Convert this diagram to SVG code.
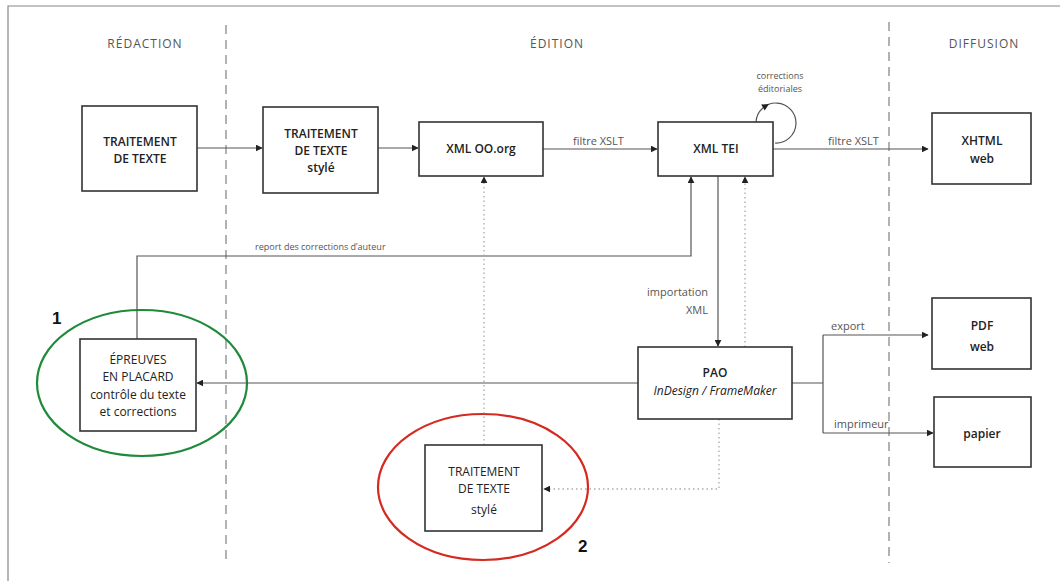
<svg xmlns="http://www.w3.org/2000/svg" width="1060" height="581" viewBox="0 0 1060 581">
<defs>
<style>
.box{fill:#fff;stroke:#333;stroke-width:1.6}
.t{font-family:"Open Sans","Liberation Sans",sans-serif;font-size:12px;fill:#222;text-anchor:middle}
.b{font-weight:600}
.hd{font-family:"Open Sans","Liberation Sans",sans-serif;font-size:12px;fill:#555;text-anchor:middle;letter-spacing:1px}
.lbl{font-family:"Open Sans","Liberation Sans",sans-serif;font-size:11px;fill:#555}
.sm{font-family:"Open Sans","Liberation Sans",sans-serif;font-size:9px;fill:#555}
.c{fill:none;stroke:#555;stroke-width:1.2}
.d{fill:none;stroke:#aaa;stroke-width:1.3;stroke-dasharray:1.5,3}
.sep{stroke:#999;stroke-width:1.5;stroke-dasharray:9,6}
</style>
<marker id="ah" viewBox="0 0 10 10" refX="9" refY="5" markerWidth="7" markerHeight="7" orient="auto" markerUnits="userSpaceOnUse">
<path d="M0,0 L10,5 L0,10 z" fill="#222"/>
</marker>
</defs>
<rect width="1060" height="581" fill="#fff"/>
<g id="frame" stroke="#888" stroke-width="1.2" fill="none">
<path d="M8,581 V6 H1060"/>
</g>
<g id="separators">
<line class="sep" x1="226" y1="25" x2="226" y2="563"/>
<line class="sep" x1="889" y1="22" x2="889" y2="563"/>
</g>
<g id="headers">
<text class="hd" x="145" y="48">RÉDACTION</text>
<text class="hd" x="557" y="48">ÉDITION</text>
<text class="hd" x="984" y="48">DIFFUSION</text>
</g>
<g id="highlights" fill="none" stroke-width="2.2">
<ellipse cx="142" cy="383" rx="105" ry="73" stroke="#1e8a3a"/>
<ellipse cx="483" cy="487" rx="105" ry="73" stroke="#d42a20"/>
<text x="52" y="324" font-family="Liberation Sans,Arial,sans-serif" font-size="17" font-weight="bold" fill="#111" stroke="none">1</text>
<text x="578" y="552" font-family="Liberation Sans,Arial,sans-serif" font-size="17" font-weight="bold" fill="#111" stroke="none">2</text>
</g>
<g id="connectors">
<line class="c" x1="197" y1="148" x2="262" y2="148" marker-end="url(#ah)"/>
<line class="c" x1="378" y1="148" x2="418" y2="148" marker-end="url(#ah)"/>
<line class="c" x1="543" y1="149" x2="657" y2="149" marker-end="url(#ah)"/>
<line class="c" x1="773" y1="149" x2="928" y2="149" marker-end="url(#ah)"/>
<path class="c" d="M756,122 A20,20 0 1 1 775,143"/>
<polygon points="769,104 764.7,110.5 761.2,104.5" fill="#222"/>
<path class="c" d="M137,339 V256 H691 V177" marker-end="url(#ah)"/>
<line class="c" x1="718" y1="176" x2="718" y2="346" marker-end="url(#ah)"/>
<path class="d" d="M745,347 V177" marker-end="url(#ah)"/>
<path class="d" d="M484,445 V177" marker-end="url(#ah)"/>
<line class="c" x1="638" y1="383" x2="197" y2="383" marker-end="url(#ah)"/>
<path class="d" d="M719,419 V489 H544" marker-end="url(#ah)"/>
<path class="c" d="M792,383 H823 M823,335 V433"/>
<line class="c" x1="823" y1="335" x2="928" y2="335" marker-end="url(#ah)"/>
<line class="c" x1="823" y1="433" x2="933" y2="433" marker-end="url(#ah)"/>
</g>
<g id="connector-labels">
<text class="lbl" x="573" y="145">filtre XSLT</text>
<text class="lbl" x="828" y="145">filtre XSLT</text>
<text class="sm" x="780" y="79" text-anchor="middle">corrections</text>
<text class="sm" x="780" y="92" text-anchor="middle">éditoriales</text>
<text class="sm" x="255" y="250" font-size="9.5">report des corrections d’auteur</text>
<text class="lbl" x="708" y="296" text-anchor="end">importation</text>
<text class="lbl" x="708" y="314" text-anchor="end">XML</text>
<text class="lbl" x="831" y="330">export</text>
<text class="lbl" x="834" y="428">imprimeur</text>
</g>
<g id="n-tt1">
<rect class="box" x="82" y="106" width="115" height="85"/>
<text class="t b" x="140" y="146">TRAITEMENT</text>
<text class="t b" x="140" y="163">DE TEXTE</text>
</g>
<g id="n-tt2">
<rect class="box" x="263" y="107" width="115" height="86"/>
<text class="t b" x="321" y="138">TRAITEMENT</text>
<text class="t b" x="321" y="155">DE TEXTE</text>
<text class="t b" x="321" y="172">stylé</text>
</g>
<g id="n-xmloo">
<rect class="box" x="419" y="122" width="124" height="54"/>
<text class="t b" x="481" y="153">XML OO.org</text>
</g>
<g id="n-xmltei">
<rect class="box" x="658" y="122" width="115" height="54"/>
<text class="t b" x="716" y="153">XML TEI</text>
</g>
<g id="n-xhtml">
<rect class="box" x="932" y="113" width="99" height="71"/>
<text class="t b" x="982" y="145">XHTML</text>
<text class="t b" x="982" y="163">web</text>
</g>
<g id="n-pdf">
<rect class="box" x="932" y="298" width="99" height="71"/>
<text class="t b" x="982" y="330">PDF</text>
<text class="t b" x="982" y="351">web</text>
</g>
<g id="n-papier">
<rect class="box" x="934" y="397" width="97" height="70"/>
<text class="t b" x="982" y="438">papier</text>
</g>
<g id="n-pao">
<rect class="box" x="638" y="347" width="154" height="72"/>
<text class="t b" x="715" y="377">PAO</text>
<text class="t" x="715" y="395" font-style="italic" fill="#444">InDesign / FrameMaker</text>
</g>
<g id="n-epreuves">
<rect class="box" x="80" y="339" width="116" height="92"/>
<text class="t" x="138" y="364">ÉPREUVES</text>
<text class="t" x="138" y="381">EN PLACARD</text>
<text class="t" x="138" y="399">contrôle du texte</text>
<text class="t" x="138" y="416">et corrections</text>
</g>
<g id="n-tt3">
<rect class="box" x="425" y="445" width="117" height="86"/>
<text class="t" x="484" y="476">TRAITEMENT</text>
<text class="t" x="484" y="493">DE TEXTE</text>
<text class="t" x="484" y="514">stylé</text>
</g>
</svg>
